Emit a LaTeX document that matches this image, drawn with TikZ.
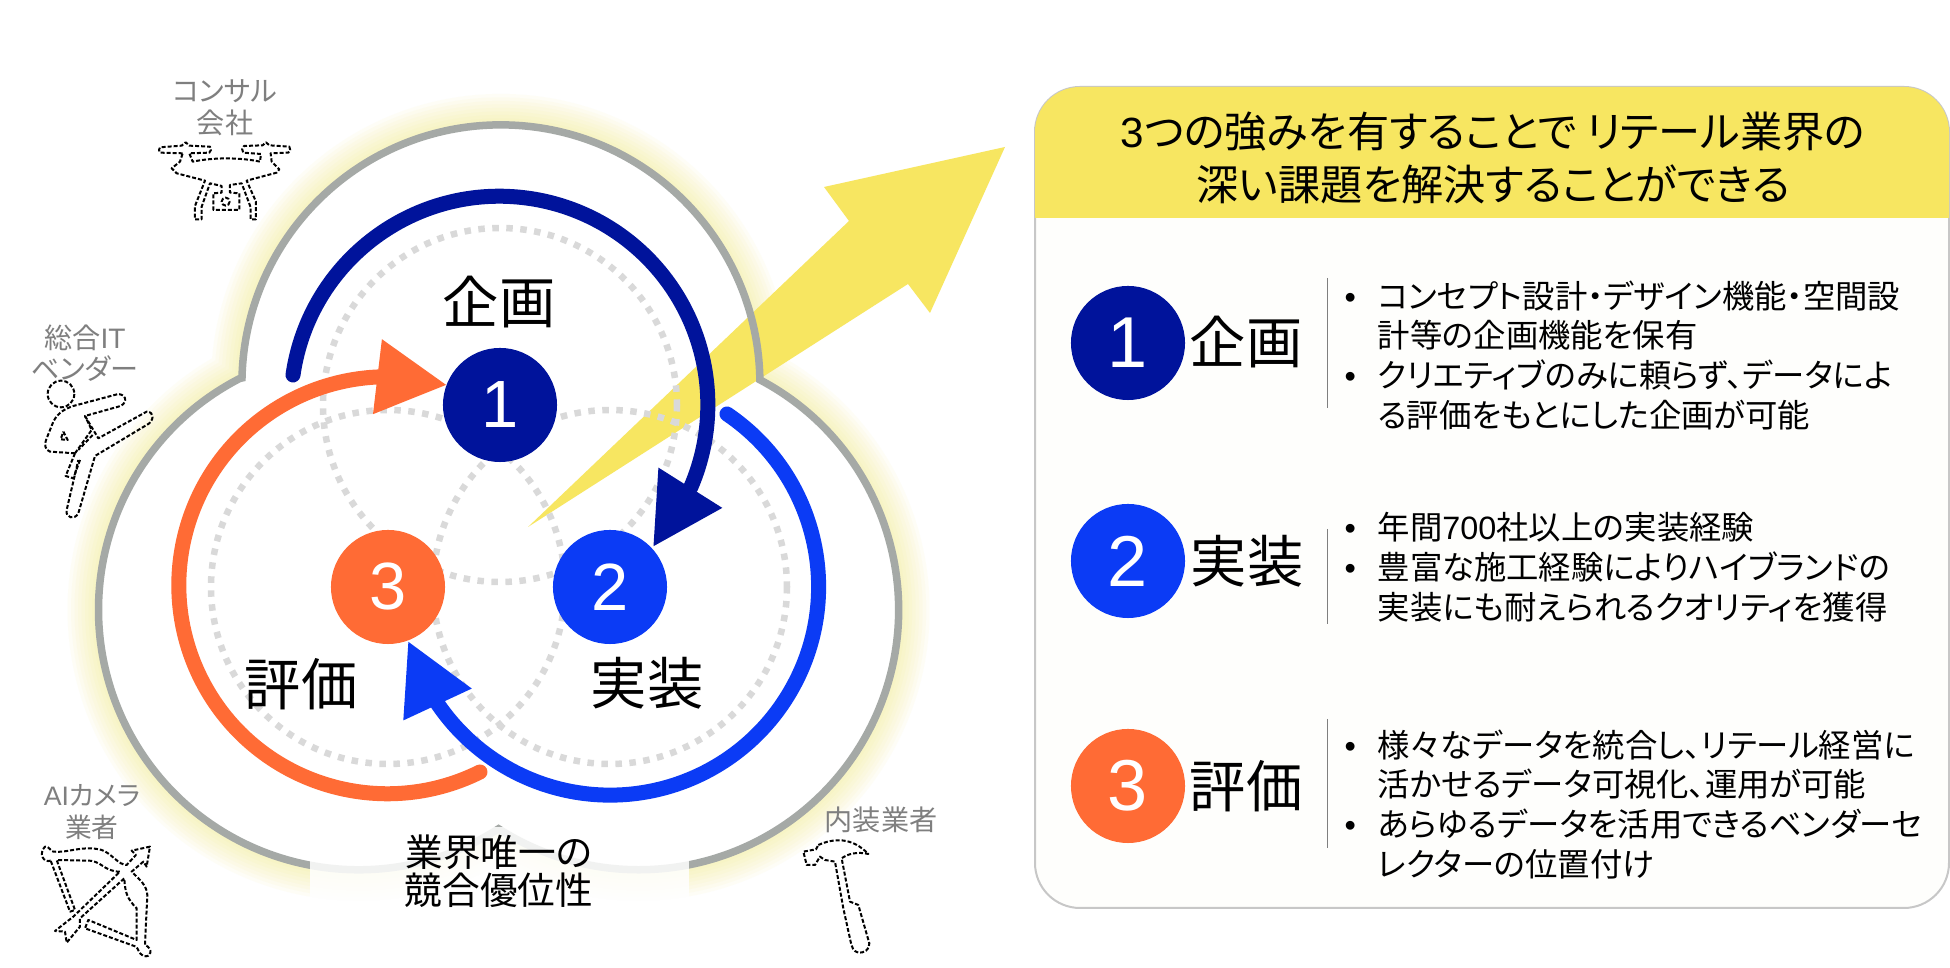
\documentclass[tikz,border=0pt]{standalone}
\usepackage{fontspec}
\usetikzlibrary{arrows.meta}
\setmainfont[RawFeature=+palt]{Noto Sans CJK JP}
\newfontfamily\arialfont{Liberation Sans}
\definecolor{navyc}{HTML}{00139B}
\definecolor{bluec}{HTML}{0B3BF5}
\definecolor{orangec}{HTML}{FF6B35}
\definecolor{yellowc}{HTML}{F7E661}
\definecolor{outlinec}{HTML}{A5A9A6}
\definecolor{dotc}{HTML}{D9D9D9}
\definecolor{labelc}{HTML}{7F7F7F}
\definecolor{panelc}{HTML}{FEFEFC}
\newcommand{\trefoil}{(242,378) arc[start angle=181.3,end angle=359.1,radius=259] arc[start angle=-62.2,end angle=122.6,radius=260] arc[start angle=57.4,end angle=242.8,radius=260] -- cycle}
\newcommand{\bul}[1]{\makebox[.33cm][l]{\arialfont •}#1\\}
\newcommand{\cont}[1]{\makebox[.33cm]{}#1\\}

\begin{document}
\begin{tikzpicture}[
x=0.01cm,y=-0.01cm,
lobe/.style={color=dotc,line width=0.065cm,dash pattern=on 0.065cm off 0.075cm},
arcarrow/.style={-{Triangle[length=0.70cm,width=0.71cm]},line width=0.15cm,line cap=round},
numdot/.style={circle,minimum size=1.14cm,inner sep=0pt,text=white,font=\arialfont\fontsize{19}{19}\selectfont},
bignum/.style={numdot,font=\arialfont\fontsize{20.5}{20.5}\selectfont},
head/.style={font=\fontsize{16}{16}\selectfont,inner sep=0pt},
tag/.style={text=labelc,align=center,inner sep=0pt,font=\fontsize{8}{9}\selectfont},
item/.style={anchor=west,align=left,inner sep=0pt,font=\fontsize{9.2}{11.34}\selectfont},
icon/.style={line width=0.02cm,dash pattern=on 0.04cm off 0.02cm,line join=round}
]

\useasboundingbox (0,0) rectangle (1950,968);
\fill[white] (0,0) rectangle (1950,968);

% glow and the outer shape
\foreach \w in {62,55,48,41,34,27,20,13,6}
  \draw[yellowc,opacity=0.05,line width=\w*0.01cm,line join=round] \trefoil;
\fill[white] \trefoil;
\fill[yellowc] (528,527) -- (849,221) -- (824,187) -- (1005,147) -- (930,313) -- (908,284) -- cycle;
\draw[outlinec,line width=0.075cm] \trefoil;

\draw[lobe] (500,405) circle[radius=177];
\draw[lobe] (388,587) circle[radius=177];
\draw[lobe] (610,587) circle[radius=177];

\node[numdot,fill=navyc](plan) at (500,405) {1};
\node[numdot,fill=bluec](build) at (610,587) {2};
\node[numdot,fill=orangec](review) at (388,587) {3};

\coordinate (planstart) at (293,375);
\coordinate (buildstart) at (727,414);
\coordinate (reviewstart) at (480,772);
\coordinate (plantip) at (653,547);
\coordinate (buildtip) at (408,641);
\coordinate (reviewtip) at (447,385);

\draw[arcarrow,navyc] (planstart) arc[start angle=188.2,end angle=383.1,radius=208.5] -- (plantip);
\draw[arcarrow,bluec] (buildstart) arc[start angle=-55.9,end angle=146.5,radius=208.5] -- (buildtip);
\draw[arcarrow,orangec] (reviewstart) arc[start angle=63.6,end angle=267.8,radius=208.5] -- (reviewtip);

\node[head](plantext) at (499,302) {企画};
\node[head](buildtext) at (647,683) {実装};
\node[head](reviewtext) at (301,684) {評価};

\fill[white,opacity=0.85] (310,827) rectangle (689,910);
\node[align=center,inner sep=0pt,font=\fontsize{10.7}{10.9}\selectfont](edge) at (499,871) {業界唯一の\\競合優位性};

% vendors round the shape
\node[tag](consult) at (225,108) {コンサル\\会社};
\node[tag](itvendor) at (85,353) {総合{\arialfont IT}\\ベンダー};
\node[tag,font=\fontsize{7.6}{9}\selectfont](camera) at (92,812) {{\arialfont AI}カメラ\\業者};
\node[tag](interior) at (881,820) {内装業者};

% drone
\begin{scope}[shift={(150,130)},scale=0.3333]
\draw[icon] (98,70) -- (30,68) to[bend left=40] (30,52) -- (95,47) -- (107,37) -- (118,47) -- (180,50) to[bend left=50] (178,68) -- (118,70) -- (128,95) .. controls (190,82) and (270,82) .. (330,95) -- (333,72) -- (280,68) to[bend left=50] (282,48) -- (338,46) -- (348,37) -- (358,46) -- (418,50) to[bend left=50] (415,68) -- (362,70) -- (365,95) -- (388,118) -- (380,128) -- (290,152) -- (318,215) -- (318,268) -- (302,268) -- (302,232) -- (275,160) -- (240,165) -- (240,188) -- (268,190) -- (268,240) -- (190,240) -- (190,190) -- (215,188) -- (215,168) -- (180,160) -- (155,230) -- (155,268) -- (135,268) -- (135,228) -- (165,152) -- (80,130) -- (65,115) -- (90,95) -- cycle;
\draw[icon] (227,215) circle[radius=12];
\end{scope}

% kicking figure
\begin{scope}[shift={(30,370)},scale=0.3333]
\draw[icon] (93,72) circle[radius=40];
\draw[icon] (135,250) -- (60,245) .. controls (45,240) and (42,225) .. (50,205) -- (70,155) .. controls (85,125) and (110,115) .. (130,108) -- (265,72) .. controls (295,75) and (290,105) .. (265,110) -- (165,138) -- (205,205) -- (350,125) .. controls (375,125) and (372,155) .. (350,165) -- (195,258) -- (145,430) .. controls (135,450) and (105,445) .. (110,420) -- (145,270);
\draw[icon] (135,250) -- (185,180) -- (165,138);
\draw[icon] (188,195) -- (145,240);
\draw[icon] (150,270) -- (130,325) -- (107,318) -- (135,250);
\draw[icon] (100,185) -- (113,210) -- (92,208) -- cycle;
\end{scope}

% bow and arrow
\begin{scope}[shift={(30,830)},scale=0.3333]
\draw[icon] (62,92) .. controls (40,100) and (25,70) .. (45,50) .. controls (58,48) and (62,65) .. (70,65) .. controls (110,70) and (160,45) .. (215,60) .. controls (245,70) and (265,105) .. (290,105) -- (318,75) -- (305,62) -- (360,50) -- (350,110) -- (340,95) -- (305,125) .. controls (330,150) and (350,165) .. (352,195) -- (345,345) .. controls (370,355) and (365,385) .. (340,378) .. controls (325,370) and (325,355) .. (318,350) -- (165,295) -- (175,270) -- (320,330) -- (320,235) .. controls (290,205) and (285,185) .. (283,145) -- (150,265) -- (150,290) -- (110,338) -- (105,305) -- (75,303) -- (130,260) -- (270,125) .. controls (220,125) and (215,90) .. (170,92) -- (80,90) -- (135,240) -- (120,245) -- cycle;
\end{scope}

% hammer
\begin{scope}[shift={(790,830)},scale=0.3333]
\draw[icon] (85,45) .. controls (130,25) and (185,20) .. (235,72) .. controls (205,65) and (175,70) .. (155,85) -- (180,215) -- (205,225) -- (238,340) .. controls (240,360) and (220,370) .. (205,368) .. controls (190,365) and (185,350) .. (182,335) -- (160,235) -- (135,95) -- (105,90) -- (90,80) -- (75,105) -- (50,105) -- (40,65) -- (78,58) -- cycle;
\end{scope}

% panel
\draw[color=black!22,line width=0.02cm,fill=panelc,rounded corners=0.45cm] (1035,87) rectangle (1949,908);
\fill[yellowc] (1035,218) -- (1035,132) arc[start angle=180,end angle=270,radius=45] -- (1904,87) arc[start angle=270,end angle=360,radius=45] -- (1949,218) -- cycle;
\node[align=center,inner sep=0pt,font=\fontsize{12}{14.8}\selectfont](title) at (1493,158) {{\arialfont 3}つの強みを有することで リテール業界の\\深い課題を解決することができる};

\node[bignum,fill=navyc](card1) at (1128,343) {1};
\node[bignum,fill=bluec](card2) at (1128,561) {2};
\node[bignum,fill=orangec](card3) at (1128,786) {3};

\node[head](cardtext1) at (1246,342) {企画};
\node[head](cardtext2) at (1247,561) {実装};
\node[head](cardtext3) at (1246,786) {評価};

\draw[color=labelc,line width=0.01cm] (1327,278) -- (1327,408);
\draw[color=labelc,line width=0.01cm] (1327,529) -- (1327,624);
\draw[color=labelc,line width=0.01cm] (1327,719) -- (1327,848);

\node[item](list1) at (1344,374) {\bul{コンセプト設計・デザイン機能・空間設}\cont{計等の企画機能を保有}\bul{クリエティブのみに頼らず、データによ}\cont{る評価をもとにした企画が可能}};
\node[item](list2) at (1344,586) {\bul{年間{\arialfont 700}社以上の実装経験}\bul{豊富な施工経験によりハイブランドの}\cont{実装にも耐えられるクオリティを獲得}};
\node[item](list3) at (1344,823) {\bul{様々なデータを統合し、リテール経営に}\cont{活かせるデータ可視化、運用が可能}\bul{あらゆるデータを活用できるベンダーセ}\cont{レクターの位置付け}};

\end{tikzpicture}
\end{document}
